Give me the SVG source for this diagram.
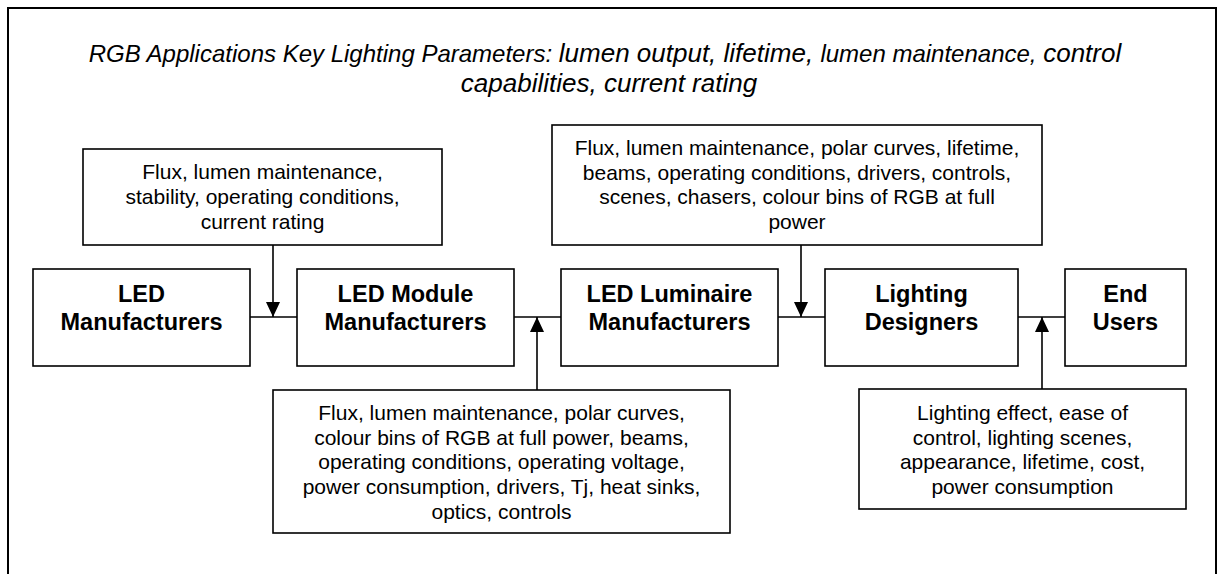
<svg xmlns="http://www.w3.org/2000/svg" width="1223" height="574" viewBox="0 0 1223 574">
<style>
.box{fill:#fff;stroke:#000;stroke-width:1.6}
.frame{fill:#fff;stroke:#000;stroke-width:2}
.ln{fill:none;stroke:#000;stroke-width:1.6}
.p{font-family:"Liberation Sans",Arial,sans-serif;font-size:21px;fill:#000;text-anchor:middle}
.n{font-family:"Liberation Sans",Arial,sans-serif;font-size:23.5px;font-weight:bold;fill:#000;text-anchor:middle}
.t{font-family:"Liberation Sans",Arial,sans-serif;font-style:italic;fill:#000;text-anchor:middle}
.s{font-size:24px}
.l{font-size:26px}
</style>
<defs>
<marker id="ah" markerUnits="userSpaceOnUse" markerWidth="16" markerHeight="16" viewBox="0 0 16 16" refX="15" refY="8" orient="auto">
<path d="M0,1 L15,8 L0,15 Z" fill="#000"/>
</marker>
</defs>
<rect class="frame" x="8" y="8" width="1208" height="620"/>
<g id="title">
<text class="t" x="605" y="62"><tspan class="s">RGB Applications Key Lighting Parameters: </tspan><tspan class="l">lumen output, lifetime, </tspan><tspan class="s">lumen maintenance, </tspan><tspan class="l">control</tspan></text>
<text class="t l" x="609" y="92">capabilities, current rating</text>
</g>
<g id="connectors">
<line class="ln" x1="250" y1="317" x2="297" y2="317"/>
<line class="ln" x1="514" y1="317" x2="561" y2="317"/>
<line class="ln" x1="778" y1="317" x2="825" y2="317"/>
<line class="ln" x1="1018" y1="317" x2="1065" y2="317"/>
<line class="ln" x1="273" y1="245" x2="273" y2="317" marker-end="url(#ah)"/>
<line class="ln" x1="801" y1="245" x2="801" y2="317" marker-end="url(#ah)"/>
<line class="ln" x1="537" y1="390" x2="537" y2="317" marker-end="url(#ah)"/>
<line class="ln" x1="1042" y1="389" x2="1042" y2="317" marker-end="url(#ah)"/>
</g>
<g id="params-led">
<rect class="box" x="83" y="149" width="359" height="96"/>
<text class="p" x="262.5" y="179">Flux, lumen maintenance,</text>
<text class="p" x="262.5" y="204">stability, operating conditions,</text>
<text class="p" x="262.5" y="229">current rating</text>
</g>
<g id="params-luminaire">
<rect class="box" x="552" y="125" width="490" height="120"/>
<text class="p" x="797" y="155">Flux, lumen maintenance, polar curves, lifetime,</text>
<text class="p" x="797" y="180">beams, operating conditions, drivers, controls,</text>
<text class="p" x="797" y="204">scenes, chasers, colour bins of RGB at full</text>
<text class="p" x="797" y="229">power</text>
</g>
<g id="led-manufacturers">
<rect class="box" x="33" y="269" width="217" height="97"/>
<text class="n" x="141.5" y="302">LED</text>
<text class="n" x="141.5" y="330">Manufacturers</text>
</g>
<g id="led-module-manufacturers">
<rect class="box" x="297" y="269" width="217" height="97"/>
<text class="n" x="405.5" y="302">LED Module</text>
<text class="n" x="405.5" y="330">Manufacturers</text>
</g>
<g id="led-luminaire-manufacturers">
<rect class="box" x="561" y="269" width="217" height="97"/>
<text class="n" x="669.5" y="302">LED Luminaire</text>
<text class="n" x="669.5" y="330">Manufacturers</text>
</g>
<g id="lighting-designers">
<rect class="box" x="825" y="269" width="193" height="97"/>
<text class="n" x="921.5" y="302">Lighting</text>
<text class="n" x="921.5" y="330">Designers</text>
</g>
<g id="end-users">
<rect class="box" x="1065" y="269" width="121" height="97"/>
<text class="n" x="1125.5" y="302">End</text>
<text class="n" x="1125.5" y="330">Users</text>
</g>
<g id="params-module">
<rect class="box" x="273" y="390" width="457" height="143"/>
<text class="p" x="501.5" y="420">Flux, lumen maintenance, polar curves,</text>
<text class="p" x="501.5" y="445">colour bins of RGB at full power, beams,</text>
<text class="p" x="501.5" y="469">operating conditions, operating voltage,</text>
<text class="p" x="501.5" y="494">power consumption, drivers, Tj, heat sinks,</text>
<text class="p" x="501.5" y="519">optics, controls</text>
</g>
<g id="params-enduser">
<rect class="box" x="859" y="389" width="327" height="120"/>
<text class="p" x="1022.5" y="420">Lighting effect, ease of</text>
<text class="p" x="1022.5" y="445">control, lighting scenes,</text>
<text class="p" x="1022.5" y="469">appearance, lifetime, cost,</text>
<text class="p" x="1022.5" y="494">power consumption</text>
</g>
</svg>
